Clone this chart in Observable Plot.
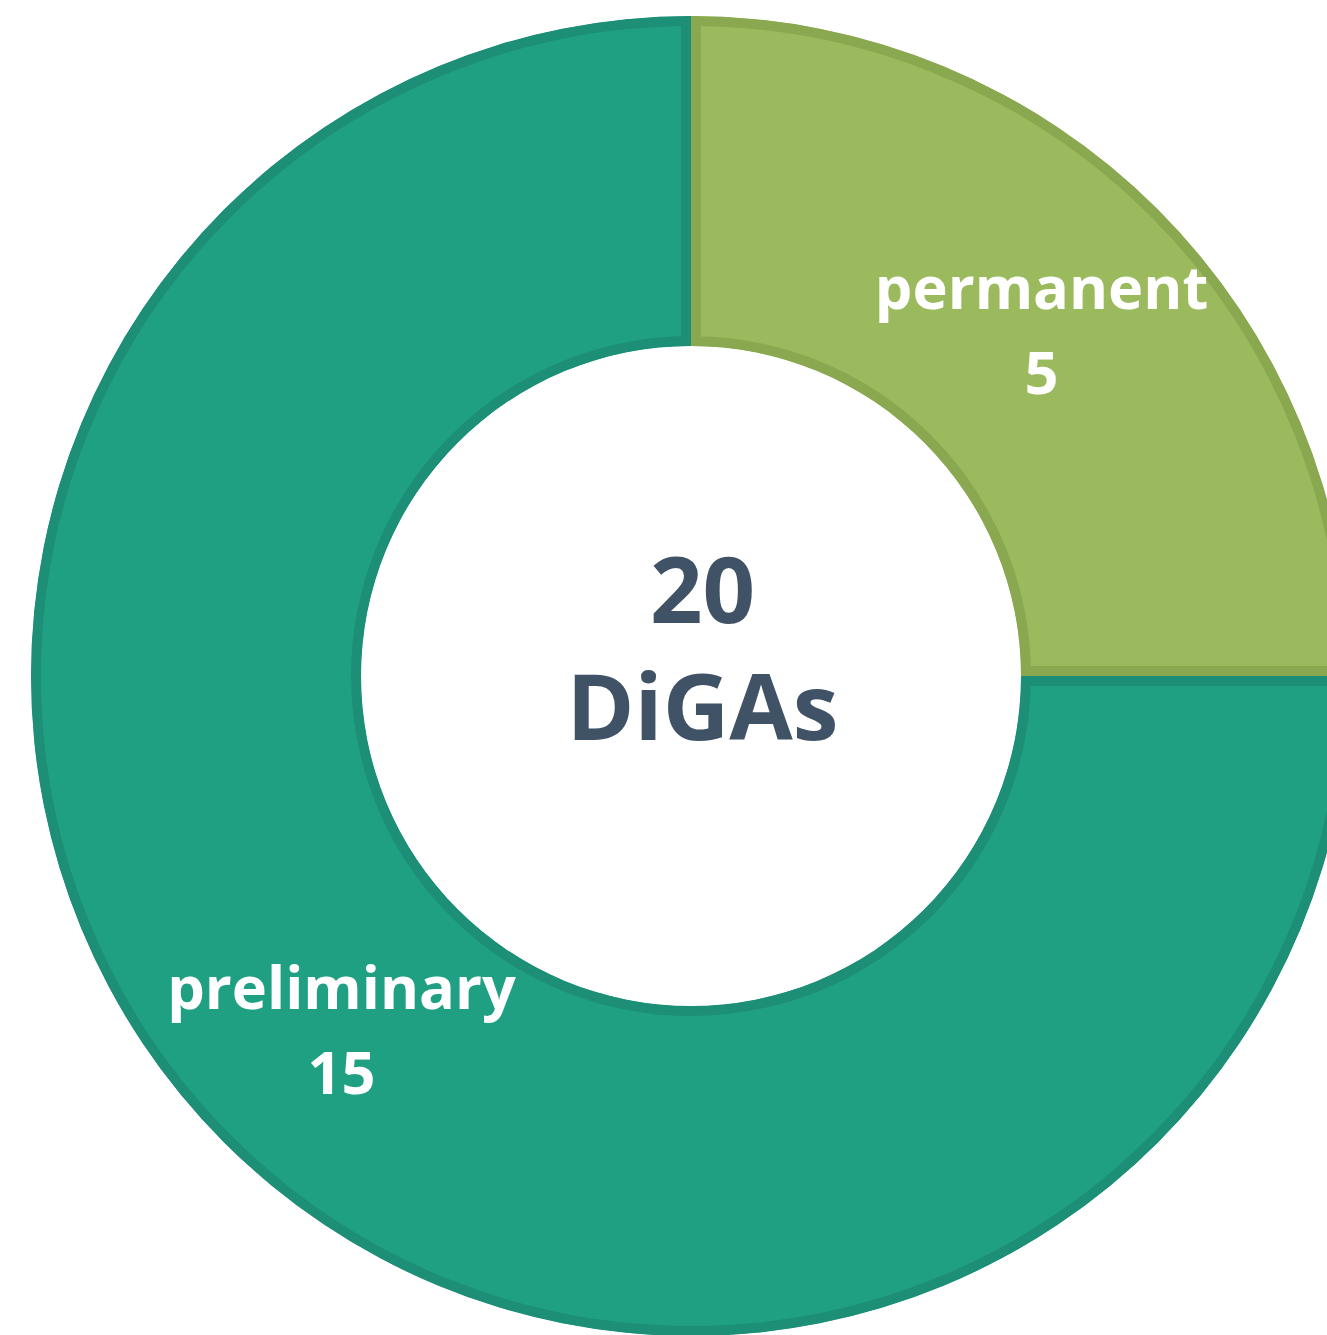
<!DOCTYPE html>
<html>
<head>
<meta charset="utf-8">
<script src="https://cdn.jsdelivr.net/npm/d3@7"></script>
<script src="https://cdn.jsdelivr.net/npm/@observablehq/plot@0.6"></script>
<style>
  html, body { margin: 0; padding: 0; background: #fff; }
  #chart { width: 1327px; height: 1335px; overflow: hidden; }
</style>
</head>
<body>
<div id="chart"></div>
<script>
const categories = ["permanent", "preliminary"];
const values = [5, 15];
const fills = ["#9BBA5E", "#20A083"];
const strokes = ["#8AA84F", "#1D8F76"];
const centerLines = ["20", "DiGAs"];

const W = 1327, H = 1335;
const cx = 691, cy = 676;
const outerR = 660, innerR = 330;

const data = categories.map((c, i) => ({category: c, value: values[i], fill: fills[i], stroke: strokes[i]}));
const pie = d3.pie().value(d => d.value).sort(null);
const arcs = pie(data);
const arcGen = d3.arc().innerRadius(innerR).outerRadius(outerR);

const labels = arcs.map(a => {
  const [x, y] = arcGen.centroid(a);
  return {x, y, text: `${a.data.category}\n${a.data.value}`};
});

function donutMark(index, scales, values, dims, context) {
  const svgNS = "http://www.w3.org/2000/svg";
  const ox = scales.x(0), oy = scales.y(0);
  const k = scales.x(1) - scales.x(0);
  const gen = d3.arc().innerRadius(innerR * k).outerRadius(outerR * k);
  const g = document.createElementNS(svgNS, "g");
  g.setAttribute("transform", `translate(${ox},${oy})`);
  const defs = document.createElementNS(svgNS, "defs");
  g.appendChild(defs);
  arcs.forEach((a, i) => {
    const d = gen(a);
    const cp = document.createElementNS(svgNS, "clipPath");
    cp.setAttribute("id", "slice-clip-" + i);
    const cpPath = document.createElementNS(svgNS, "path");
    cpPath.setAttribute("d", d);
    cp.appendChild(cpPath);
    defs.appendChild(cp);
    const p = document.createElementNS(svgNS, "path");
    p.setAttribute("d", d);
    p.setAttribute("fill", a.data.fill);
    p.setAttribute("stroke", a.data.stroke);
    p.setAttribute("stroke-width", 20);
    p.setAttribute("clip-path", `url(#slice-clip-${i})`);
    g.appendChild(p);
  });
  return g;
}

const chart = Plot.plot({
  width: W,
  height: H,
  margin: 0,
  x: {domain: [-cx, W - cx], range: [0, W], axis: null},
  y: {domain: [-cy, H - cy], range: [0, H], axis: null},
  style: {background: "#fff", overflow: "hidden"},
  marks: [
    donutMark,
    Plot.text(labels, {
      x: "x", y: "y", text: "text", dy: -2,
      fill: "#fff", fontSize: 59.5, fontWeight: "bold",
      fontFamily: "'Open Sans', 'Noto Sans', sans-serif",
      lineHeight: 1.42, textAnchor: "middle"
    }),
    Plot.text([centerLines.join("\n")], {
      x: () => 0, y: () => 0, text: d => d, dx: 11, dy: -32,
      fill: "#405266", fontSize: 92, fontWeight: "bold",
      fontFamily: "'Open Sans', 'Noto Sans', sans-serif",
      lineHeight: 1.27, textAnchor: "middle"
    })
  ]
});
document.getElementById("chart").appendChild(chart);
</script>
</body>
</html>
